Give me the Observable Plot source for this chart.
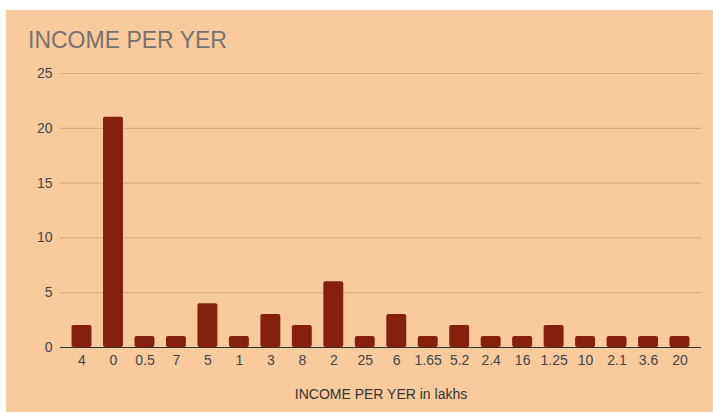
<!DOCTYPE html>
<html>
<head>
<meta charset="utf-8">
<script src="https://cdn.jsdelivr.net/npm/d3@7"></script>
<script src="https://cdn.jsdelivr.net/npm/@observablehq/plot@0.6"></script>
<style>
  html, body { margin: 0; padding: 0; background: #ffffff; width: 713px; height: 412px; overflow: hidden; }
  #bg { position: absolute; left: 6px; top: 10px; width: 707px; height: 402px; background: #f9cb9c; }
  #title { position: absolute; left: 28px; top: 29px; font-family: "Liberation Sans", Arial, sans-serif; font-size: 23px; line-height: 23px; color: #757171; white-space: nowrap; }
  #chart { position: absolute; left: 0; top: 50px; }
  #chart svg { background: transparent; overflow: visible; }
</style>
</head>
<body>
<div id="bg"></div>
<div id="title">INCOME PER YER</div>
<div id="chart"></div>
<script>
const categories = ["4", "0", "0.5", "7", "5", "1", "3", "8", "2", "25", "6", "1.65", "5.2", "2.4", "16", "1.25", "10", "2.1", "3.6", "20"];
const counts = [2, 21, 1, 1, 4, 1, 3, 2, 6, 1, 3, 1, 2, 1, 1, 2, 1, 1, 1, 1];
const yTicks = [0, 5, 10, 15, 20, 25];

const data = categories.map((c, i) => ({category: c, count: counts[i]}));

const chart = Plot.plot({
  width: 713,
  height: 362,
  marginTop: 23,
  marginBottom: 65,
  marginLeft: 60,
  marginRight: 12,
  style: {background: "transparent", fontFamily: "'Liberation Sans', Arial, sans-serif", fontSize: "14px", color: "#444444"},
  x: {domain: categories, padding: 0.367, round: false, label: null},
  y: {domain: [0, 25], label: null},
  marks: [
    Plot.ruleY(yTicks.filter(d => d > 0), {stroke: "#dfac80", strokeWidth: 1.2}),
    Plot.barY(data, {x: "category", y: "count", fill: "#85200c", rx: 2}),
    Plot.ruleY([0], {stroke: "#333333", strokeWidth: 1.2}),
    Plot.axisY({ticks: yTicks, tickSize: 0, tickPadding: 8, label: null, fontSize: 14, fill: "#444444"}),
    Plot.axisX({tickSize: 0, tickPadding: 8, label: null, fontSize: 14, fill: "#444444"}),
    Plot.text(["INCOME PER YER in lakhs"], {frameAnchor: "bottom", dy: 51, fontSize: 14, fill: "#333333"})
  ]
});
document.getElementById("chart").appendChild(chart);
</script>
</body>
</html>
